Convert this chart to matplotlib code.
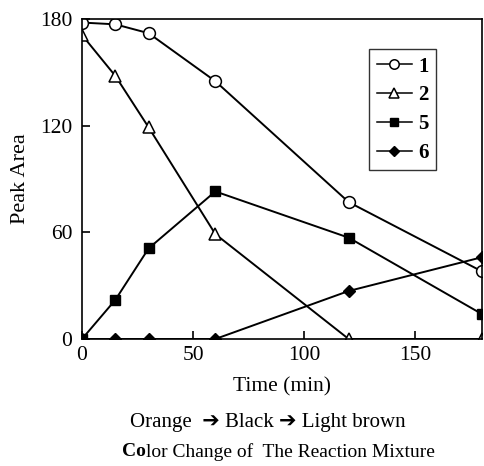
import matplotlib.pyplot as plt

plt.rcParams['font.family'] = ['Liberation Serif', 'DejaVu Sans']

time = [0, 15, 30, 60, 120, 180]
s1 = [178, 177, 172, 145, 77, 38]
s2 = [171, 148, 119, 59, 0, 0]
s5 = [0, 22, 51, 83, 57, 14]
s6 = [0, 0, 0, 0, 27, 46]

fig = plt.figure(figsize=(4.84, 4.66), dpi=100)
ax = fig.add_axes([82 / 484, 127 / 466, 400 / 484, 320 / 466])

ax.plot(time, s1, color='black', lw=1.4, marker='o', ms=8.5, mfc='white', mec='black', mew=1.1, label='1')
ax.plot(time, s2, color='black', lw=1.4, marker='^', ms=9, mfc='white', mec='black', mew=1.1, label='2')
ax.plot(time, s5, color='black', lw=1.4, marker='s', ms=6.5, mfc='black', mec='black', label='5')
ax.plot(time, s6, color='black', lw=1.4, marker='D', ms=6, mfc='black', mec='black', label='6')

ax.set_xlim(0, 180)
ax.set_ylim(0, 180)
ax.set_xticks([0, 50, 100, 150])
ax.set_yticks([0, 60, 120, 180])
ax.tick_params(direction='in', length=6, width=1.2, labelsize=15.5)
ax.tick_params(axis='y', pad=7)
ax.tick_params(axis='x', pad=5)
for sp in ax.spines.values():
    sp.set_linewidth(1.2)

ax.set_ylabel('Peak Area', fontsize=16, labelpad=7)
ax.set_xlabel('Time (min)', fontsize=15.5, labelpad=9)

leg = ax.legend(loc='upper right', bbox_to_anchor=(0.885, 0.905), borderaxespad=0,
                frameon=True, fancybox=False,
                edgecolor='black', handlelength=1.7, handletextpad=0.3, borderpad=0.35,
                labelspacing=0.42, prop={'size': 15, 'weight': 'bold'}, markerscale=0.8)
leg.get_frame().set_linewidth(1.0)
for h in leg.get_lines():
    h.set_linewidth(1.1)

fig.text(130 / 484, 1 - 422 / 466, 'Orange  \u2794 Black \u2794 Light brown', fontsize=15,
         ha='left', va='center')
t1 = fig.text(122 / 484, 1 - 452 / 466, 'Co', fontsize=14, fontweight='bold', va='center')
ax.annotate('lor Change of  The Reaction Mixture', xy=(1, 0.5), xycoords=t1,
            fontsize=14, va='center', ha='left', annotation_clip=False)

fig.savefig('out.png', dpi=100)
